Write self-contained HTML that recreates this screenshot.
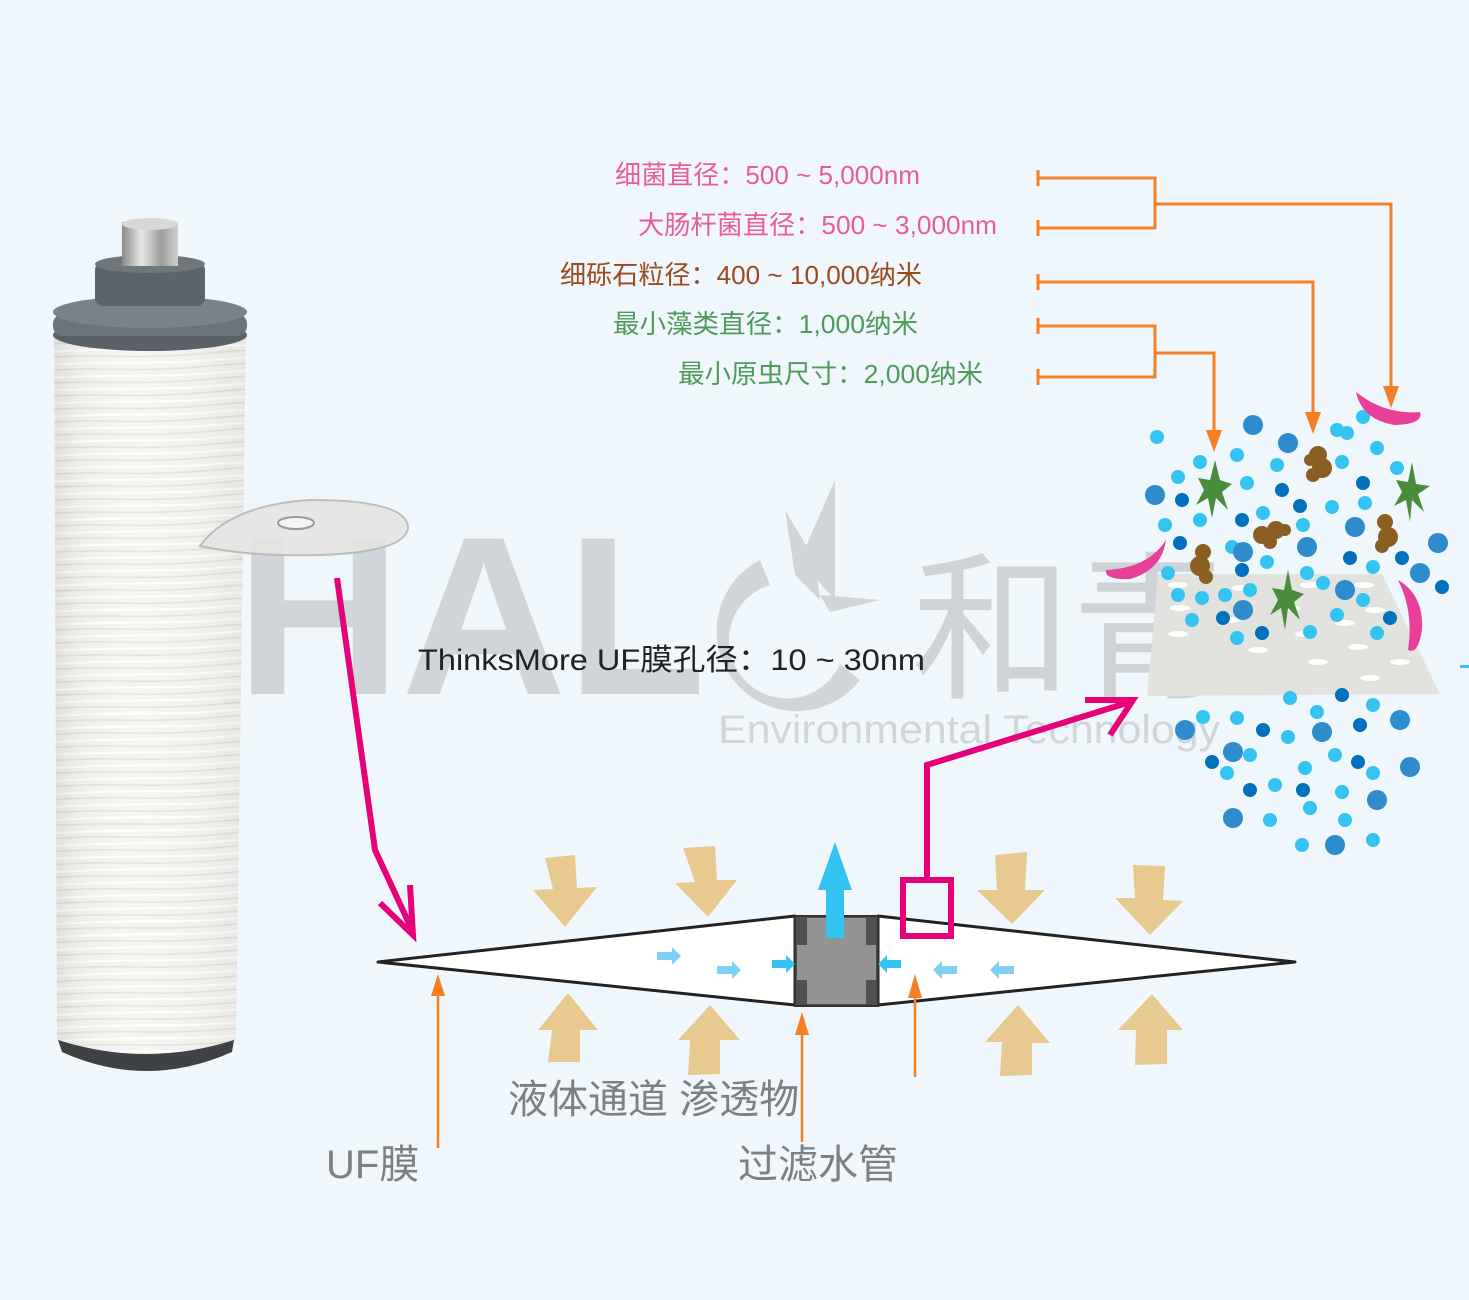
<!DOCTYPE html>
<html><head><meta charset="utf-8"><style>
html,body{margin:0;padding:0;background:#eff7fc;}
svg{display:block}
text{font-family:"Liberation Sans","Noto Sans CJK SC",sans-serif}
</style></head><body>
<svg width="1469" height="1300" viewBox="0 0 1469 1300" xmlns="http://www.w3.org/2000/svg">
<defs>
<pattern id="wrap" width="200" height="13" patternUnits="userSpaceOnUse" patternTransform="rotate(-2)">
<rect width="200" height="13" fill="#f5f4f0"/>
<path d="M0 9 Q50 6 100 9 T200 9" stroke="#e6e3dc" stroke-width="1.4" fill="none"/>
<path d="M0 3 Q60 1 120 3 T200 3" stroke="#ffffff" stroke-width="2" fill="none"/>
</pattern>
<linearGradient id="body" x1="0" x2="1">
<stop offset="0" stop-color="#000" stop-opacity="0.08"/>
<stop offset="0.4" stop-color="#fff" stop-opacity="0"/>
<stop offset="1" stop-color="#000" stop-opacity="0.06"/>
</linearGradient>
<linearGradient id="steel" x1="0" x2="1">
<stop offset="0" stop-color="#8a8a88"/><stop offset="0.35" stop-color="#e8e8e6"/><stop offset="0.7" stop-color="#9c9c9a"/><stop offset="1" stop-color="#cfcfcd"/>
</linearGradient>
</defs>
<rect width="1469" height="1300" fill="#eff7fc"/>

<!-- watermark -->
<g fill="#cfd5d8">
<text x="236" y="694" font-size="226" font-weight="bold" textLength="470" lengthAdjust="spacingAndGlyphs">HAL</text>
<path d="M760 560 A80 80 0 1 0 860 680 L840 664 A58 58 0 1 1 770 585 Z"/>
<polygon points="835,480 800,560 835,600"/>
<polygon points="785,510 815,560 820,600 795,575"/>
<polygon points="820,595 880,600 830,612"/>
<text x="912" y="686" font-size="160" font-family="Noto Sans CJK SC" fill="#cdd3d6">和青</text>
</g>
<text x="718" y="743" font-size="40" fill="#cfd5d8" textLength="502" lengthAdjust="spacingAndGlyphs">Environmental Technology</text>

<!-- cartridge -->
<path d="M54 330 L246 330 L236 1040 Q146 1090 57 1040 Z" fill="url(#wrap)"/>
<path d="M54 330 L246 330 L236 1040 Q146 1090 57 1040 Z" fill="url(#body)"/>
<path d="M58 1040 Q146 1068 234 1040 L232 1052 Q146 1090 62 1052 Z" fill="#3f4244"/>
<ellipse cx="150" cy="335" rx="97" ry="16" fill="#5a6168"/>
<rect x="53" y="314" width="194" height="22" rx="10" fill="#6b7278"/>
<ellipse cx="150" cy="312" rx="97" ry="16" fill="#7a8187"/>
<rect x="95" y="262" width="110" height="44" rx="8" fill="#5c636a"/>
<ellipse cx="150" cy="264" rx="55" ry="9" fill="#6f767c"/>
<rect x="122" y="222" width="56" height="44" fill="url(#steel)"/>
<ellipse cx="150" cy="224" rx="28" ry="6" fill="#d8d8d6"/>
<!-- disc -->
<path d="M200 546 Q230 505 310 500 Q408 500 408 528 Q405 552 320 555 Q250 557 200 546 Z" fill="#e6e6e4" stroke="#b8b8b6" stroke-width="2" opacity="0.9"/>
<ellipse cx="296" cy="523" rx="18" ry="6" fill="#f4f4f2" stroke="#999" stroke-width="2"/>

<!-- labels -->
<g font-size="26">
<text x="615" y="184" fill="#ea5c96" textLength="305" lengthAdjust="spacingAndGlyphs">细菌直径：500 ~ 5,000nm</text>
<text x="638" y="234" fill="#ea5c96" textLength="359" lengthAdjust="spacingAndGlyphs">大肠杆菌直径：500 ~ 3,000nm</text>
<text x="560" y="284" fill="#9a4a1e" textLength="362" lengthAdjust="spacingAndGlyphs">细砾石粒径：400 ~ 10,000纳米</text>
<text x="613" y="333" fill="#4e9a5a" textLength="305" lengthAdjust="spacingAndGlyphs">最小藻类直径：1,000纳米</text>
<text x="678" y="383" fill="#4e9a5a" textLength="305" lengthAdjust="spacingAndGlyphs">最小原虫尺寸：2,000纳米</text>
</g>
<g stroke="#f47f24" stroke-width="3" fill="none">
<path d="M1038 170v16M1038 220v16M1038 274v16M1038 318v16M1038 369v16"/>
<path d="M1038 178H1155V228H1038M1155 204H1391V395"/>
<path d="M1038 282H1313V420"/>
<path d="M1038 326H1155V377H1038M1155 353H1214V440"/>
</g>
<g fill="#f47f24">
<polygon points="1383,386 1399,386 1391,408"/>
<polygon points="1305,412 1321,412 1313,434"/>
<polygon points="1206,430 1222,430 1214,452"/>
</g>

<!-- particle cloud -->
<polygon points="1158,574 1382,574 1440,694 1147,696" fill="#e2e3df"/>
<g fill="#fff">
<ellipse cx="1178" cy="585" rx="10" ry="3"/><ellipse cx="1242" cy="588" rx="10" ry="3"/><ellipse cx="1310" cy="585" rx="10" ry="3"/><ellipse cx="1364" cy="585" rx="10" ry="3"/>
<ellipse cx="1180" cy="608" rx="10" ry="3"/><ellipse cx="1290" cy="608" rx="10" ry="3"/><ellipse cx="1375" cy="610" rx="10" ry="3"/><ellipse cx="1230" cy="620" rx="10" ry="3"/>
<ellipse cx="1345" cy="623" rx="10" ry="3"/><ellipse cx="1178" cy="634" rx="10" ry="3"/><ellipse cx="1305" cy="634" rx="10" ry="3"/><ellipse cx="1358" cy="647" rx="10" ry="3"/>
<ellipse cx="1318" cy="662" rx="10" ry="3"/><ellipse cx="1400" cy="662" rx="10" ry="3"/><ellipse cx="1370" cy="678" rx="10" ry="3"/><ellipse cx="1258" cy="650" rx="10" ry="3"/>
</g>
<g fill="#35c4f1">
<circle cx="1157" cy="437" r="7"/><circle cx="1200" cy="462" r="7"/><circle cx="1237" cy="455" r="7"/><circle cx="1178" cy="477" r="7"/><circle cx="1277" cy="465" r="7"/><circle cx="1337" cy="430" r="7"/><circle cx="1347" cy="433" r="7"/><circle cx="1363" cy="417" r="7"/><circle cx="1377" cy="448" r="7"/><circle cx="1342" cy="462" r="7"/><circle cx="1247" cy="483" r="7"/><circle cx="1332" cy="507" r="7"/><circle cx="1365" cy="503" r="7"/><circle cx="1397" cy="468" r="7"/><circle cx="1165" cy="525" r="7"/><circle cx="1200" cy="520" r="7"/><circle cx="1263" cy="513" r="7"/><circle cx="1303" cy="525" r="7"/><circle cx="1232" cy="547" r="7"/><circle cx="1267" cy="562" r="7"/><circle cx="1373" cy="567" r="7"/><circle cx="1168" cy="573" r="7"/><circle cx="1178" cy="595" r="7"/><circle cx="1202" cy="598" r="7"/><circle cx="1225" cy="595" r="7"/><circle cx="1250" cy="590" r="7"/><circle cx="1192" cy="620" r="7"/><circle cx="1307" cy="573" r="7"/><circle cx="1323" cy="583" r="7"/><circle cx="1363" cy="600" r="7"/><circle cx="1337" cy="615" r="7"/><circle cx="1237" cy="638" r="7"/><circle cx="1310" cy="632" r="7"/><circle cx="1377" cy="633" r="7"/>
<circle cx="1290" cy="698" r="7"/><circle cx="1373" cy="705" r="7"/><circle cx="1203" cy="717" r="7"/><circle cx="1237" cy="718" r="7"/><circle cx="1317" cy="712" r="7"/><circle cx="1288" cy="737" r="7"/><circle cx="1250" cy="755" r="7"/><circle cx="1227" cy="773" r="7"/><circle cx="1335" cy="755" r="7"/><circle cx="1305" cy="768" r="7"/><circle cx="1373" cy="773" r="7"/><circle cx="1275" cy="785" r="7"/><circle cx="1342" cy="792" r="7"/><circle cx="1310" cy="808" r="7"/><circle cx="1270" cy="820" r="7"/><circle cx="1345" cy="820" r="7"/><circle cx="1302" cy="845" r="7"/><circle cx="1373" cy="840" r="7"/>
</g>
<g fill="#2e8ccd">
<circle cx="1253" cy="425" r="10"/><circle cx="1288" cy="443" r="10"/><circle cx="1155" cy="495" r="10"/><circle cx="1355" cy="527" r="10"/><circle cx="1243" cy="552" r="10"/><circle cx="1307" cy="547" r="10"/><circle cx="1438" cy="543" r="10"/><circle cx="1420" cy="573" r="10"/><circle cx="1243" cy="610" r="10"/><circle cx="1345" cy="590" r="10"/><circle cx="1322" cy="732" r="10"/><circle cx="1400" cy="720" r="10"/><circle cx="1185" cy="730" r="10"/><circle cx="1233" cy="752" r="10"/><circle cx="1410" cy="767" r="10"/><circle cx="1377" cy="800" r="10"/><circle cx="1233" cy="818" r="10"/><circle cx="1335" cy="845" r="10"/>
</g>
<g fill="#0071bc">
<circle cx="1182" cy="500" r="7"/><circle cx="1282" cy="490" r="7"/><circle cx="1300" cy="506" r="7"/><circle cx="1363" cy="483" r="7"/><circle cx="1242" cy="520" r="7"/><circle cx="1180" cy="543" r="7"/><circle cx="1350" cy="558" r="7"/><circle cx="1402" cy="558" r="7"/><circle cx="1442" cy="587" r="7"/><circle cx="1242" cy="570" r="7"/><circle cx="1223" cy="618" r="7"/><circle cx="1390" cy="618" r="7"/><circle cx="1262" cy="633" r="7"/><circle cx="1342" cy="695" r="7"/><circle cx="1263" cy="730" r="7"/><circle cx="1360" cy="725" r="7"/><circle cx="1212" cy="762" r="7"/><circle cx="1358" cy="762" r="7"/><circle cx="1250" cy="790" r="7"/><circle cx="1303" cy="790" r="7"/>
</g>
<!-- bacteria -->
<g fill="#e8409a">
<path d="M1356 392 Q1385 415 1420 412 Q1424 424 1395 425 Q1362 420 1356 392 Z"/>
<path d="M1166 540 Q1148 568 1106 570 Q1104 580 1130 579 Q1162 570 1166 540 Z"/>
<path d="M1398 580 Q1414 612 1408 650 Q1418 655 1422 630 Q1424 595 1398 580 Z"/>
</g>
<!-- brown -->
<g fill="#8b5e24">
<circle cx="1318" cy="455" r="9"/><circle cx="1322" cy="468" r="10"/><circle cx="1313" cy="475" r="7"/><circle cx="1310" cy="460" r="6"/>
<circle cx="1262" cy="535" r="9"/><circle cx="1276" cy="530" r="9"/><circle cx="1270" cy="542" r="7"/><circle cx="1285" cy="530" r="6"/>
<circle cx="1385" cy="522" r="8"/><circle cx="1388" cy="537" r="10"/><circle cx="1382" cy="546" r="7"/>
<circle cx="1203" cy="552" r="8"/><circle cx="1200" cy="566" r="10"/><circle cx="1206" cy="577" r="7"/>
</g>
<!-- green stars -->
<g fill="#4a8c3c">
<polygon points="1215,460 1220,480 1232,484 1222,492 1228,510 1216,498 1212,518 1208,498 1196,505 1204,490 1198,478 1210,480"/>
<polygon points="1412,462 1416,484 1430,486 1418,494 1424,512 1412,500 1410,522 1406,500 1394,506 1402,492 1396,480 1408,482"/>
<polygon points="1288,570 1292,590 1304,594 1294,602 1300,620 1288,608 1285,630 1281,608 1270,615 1278,600 1272,588 1284,590"/>
</g>
<rect x="1460" y="665" width="9" height="3" fill="#35c4f1"/>

<!-- ThinksMore text -->
<text x="418" y="670" font-size="30" fill="#222" textLength="507" lengthAdjust="spacingAndGlyphs">ThinksMore UF膜孔径：10 ~ 30nm</text>

<!-- diamond -->
<polygon points="378,962 795,916 795,1005" fill="#fff" stroke="#222" stroke-width="3" stroke-linejoin="round"/>
<polygon points="878,916 1295,962 878,1005" fill="#fff" stroke="#222" stroke-width="3" stroke-linejoin="round"/>
<rect x="795" y="916" width="83" height="90" fill="#505050" stroke="#333" stroke-width="2"/>
<rect x="807" y="918" width="59" height="86" fill="#939393"/>
<rect x="797" y="945" width="10" height="35" fill="#939393"/><rect x="866" y="945" width="10" height="35" fill="#939393"/>
<!-- cyan arrows -->
<polygon points="826,938 844,938 844,890 852,890 835,842 818,890 826,890" fill="#33c3f0"/>
<g fill="#7fd0f5">
<polygon points="657,952 672,952 672,947 681,956 672,965 672,960 657,960"/>
<polygon points="717,966 732,966 732,961 741,970 732,979 732,974 717,974"/>
<polygon points="957,966 942,966 942,961 933,970 942,979 942,974 957,974"/>
<polygon points="1014,966 999,966 999,961 990,970 999,979 999,974 1014,974"/>
</g>
<g fill="#33c3f0">
<polygon points="772,960 786,960 786,955 795,964 786,973 786,968 772,968"/>
<polygon points="901,960 887,960 887,955 878,964 887,973 887,968 901,968"/>
</g>
<!-- tan arrows -->
<g fill="#e8ca90">
<polygon points="545,858 575,855 577,888 597,887 565,927 533,890 553,889" />
<polygon points="683,848 715,846 717,880 737,880 708,917 675,883 695,882"/>
<polygon points="995,855 1027,852 1025,890 1045,890 1012,924 977,890 997,890"/>
<polygon points="1133,865 1165,866 1163,900 1183,901 1150,935 1115,898 1135,898"/>
<polygon points="548,1062 580,1062 580,1030 598,1030 568,993 538,1030 552,1030"/>
<polygon points="688,1075 720,1074 720,1040 740,1040 710,1005 678,1040 690,1040"/>
<polygon points="1000,1076 1032,1075 1032,1043 1050,1043 1018,1005 985,1042 1002,1042"/>
<polygon points="1135,1065 1167,1064 1167,1030 1183,1030 1152,994 1118,1030 1136,1030"/>
</g>
<!-- orange thin arrows -->
<g stroke="#f47f24" stroke-width="2.5">
<line x1="438" y1="1148" x2="438" y2="990"/>
<line x1="802" y1="1142" x2="802" y2="1025"/>
<line x1="915" y1="1077" x2="915" y2="990"/>
</g>
<g fill="#f47f24">
<polygon points="431,996 445,996 438,974"/>
<polygon points="795,1035 809,1035 802,1012"/>
<polygon points="908,998 922,998 915,974"/>
</g>
<!-- pink connectors -->
<g stroke="#e6007a" stroke-width="6" fill="none" stroke-linejoin="miter">
<polyline points="337,578 375,850 413,932"/>
<polyline points="380,903 413,935 410,885"/>
<rect x="903" y="880" width="48" height="56"/>
<polyline points="927,880 927,765 1130,702"/>
<polyline points="1085,700 1133,700 1110,735"/>
</g>

<!-- bottom labels -->
<g font-size="40" fill="#7b8085">
<text x="508" y="1113">液体通道 渗透物</text>
<text x="326" y="1178">UF膜</text>
<text x="738" y="1178">过滤水管</text>
</g>
</svg>
</body></html>
